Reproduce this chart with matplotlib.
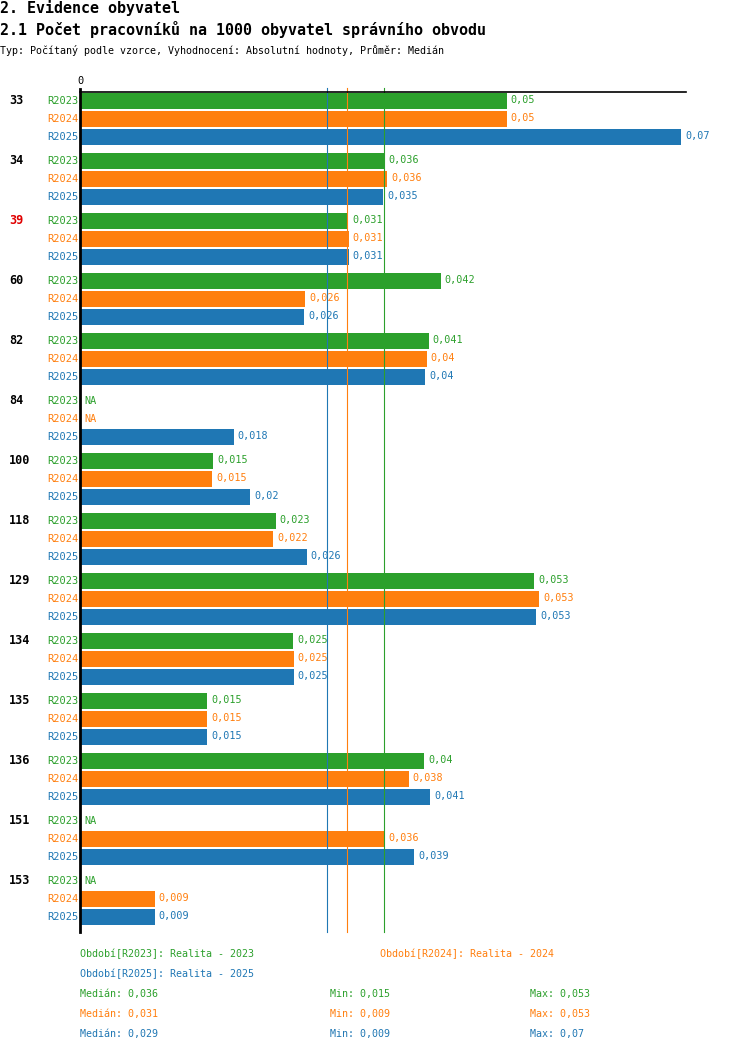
import matplotlib
matplotlib.use("Agg")
import matplotlib.pyplot as plt

# data (bar lengths, labels as printed)
groups = ["33", "34", "39", "60", "82", "84", "100", "118", "129", "134", "135", "136", "151", "153"]
series = ["R2023", "R2024", "R2025"]
r2023 = [0.0497, 0.0355, 0.0312, 0.0420, 0.0406, None, 0.0155, 0.0228, 0.0529, 0.0248, 0.0148, 0.0401, None, None]
r2024 = [0.0497, 0.0358, 0.0313, 0.0262, 0.0404, None, 0.0154, 0.0225, 0.0535, 0.0249, 0.0148, 0.0383, 0.0355, 0.0087]
r2025 = [0.0700, 0.0353, 0.0313, 0.0261, 0.0402, 0.0179, 0.0198, 0.0264, 0.0531, 0.0249, 0.0148, 0.0408, 0.0389, 0.0087]
lab2023 = ["0,05", "0,036", "0,031", "0,042", "0,041", "NA", "0,015", "0,023", "0,053", "0,025", "0,015", "0,04", "NA", "NA"]
lab2024 = ["0,05", "0,036", "0,031", "0,026", "0,04", "NA", "0,015", "0,022", "0,053", "0,025", "0,015", "0,038", "0,036", "0,009"]
lab2025 = ["0,07", "0,035", "0,031", "0,026", "0,04", "0,018", "0,02", "0,026", "0,053", "0,025", "0,015", "0,041", "0,039", "0,009"]
median_lines = [0.0354, 0.0311, 0.0288]
medians = ["0,036", "0,031", "0,029"]
mins = ["0,015", "0,009", "0,009"]
maxs = ["0,053", "0,053", "0,07"]
period_names = ["Realita - 2023", "Realita - 2024", "Realita - 2025"]
highlight = "39"

colors = ["#2ca02c", "#ff7f0e", "#1f77b4"]
FONT = "DejaVu Sans Mono"

W, H = 750, 1052
fig = plt.figure(figsize=(W / 100, H / 100), dpi=100)

def fx(px):
    return px / W

def fy(py):
    return 1 - py / H

# axes: x 80..686 px, y 92..932 px, y units in pixels
ax_left, ax_right, ax_top, ax_bot = 80, 686, 92, 932
ax = fig.add_axes([fx(ax_left), fy(ax_bot), (ax_right - ax_left) / W, (ax_bot - ax_top) / H])
ax.set_xlim(0, 0.07058)
ax.set_ylim(ax_bot - ax_top, 0)
ax.axis("off")

# axis lines
fig.add_artist(plt.Line2D([fx(ax_left), fx(ax_right)], [fy(92), fy(92)], color="black", lw=1.2))
fig.add_artist(plt.Line2D([fx(ax_left), fx(ax_left)], [fy(89), fy(932)], color="black", lw=2))
fig.text(fx(80), fy(81), "0", ha="center", va="center", fontsize=7.5, family=FONT)

data = [r2023, r2024, r2025]
labels = [lab2023, lab2024, lab2025]
for gi, g in enumerate(groups):
    for si in range(3):
        y = 8.5 + gi * 60 + si * 18
        v = data[si][gi]
        if v is not None:
            ax.barh(y, v, height=16, color=colors[si], left=0)
            ax.annotate(labels[si][gi], (v, y), xytext=(4, 0), textcoords="offset pixels",
                        ha="left", va="center", fontsize=7.3, family=FONT, color=colors[si])
        else:
            ax.annotate(labels[si][gi], (0, y), xytext=(4, 0), textcoords="offset pixels",
                        ha="left", va="center", fontsize=7.3, family=FONT, color=colors[si])
        ax.annotate(series[si], (0, y), xytext=(-2, 0), textcoords="offset pixels",
                    ha="right", va="center", fontsize=7.5, family=FONT, color=colors[si],
                    annotation_clip=False)
    ax.annotate(g, (0, 8.5 + gi * 60), xytext=(9 - 80, 0), textcoords="offset pixels",
                ha="left", va="center", fontsize=8.5, family=FONT, fontweight="bold",
                color="#e00000" if g == highlight else "black", annotation_clip=False)

# median lines
for si in range(3):
    ax.plot([median_lines[si], median_lines[si]], [-4, ax_bot - ax_top], color=colors[si],
            lw=0.8, clip_on=False, zorder=3)

# titles
fig.text(0, fy(8), "2. Evidence obyvatel", ha="left", va="center", fontsize=10.8,
         family=FONT, fontweight="bold")
fig.text(0, fy(30), "2.1 Počet pracovníků na 1000 obyvatel správního obvodu", ha="left",
         va="center", fontsize=10.8, family=FONT, fontweight="bold")
fig.text(0, fy(50), "Typ: Počítaný podle vzorce, Vyhodnocení: Absolutní hodnoty, Průměr: Medián",
         ha="left", va="center", fontsize=7.2, family=FONT)

# legend
leg_pos = [(80, 954), (380, 954), (80, 974)]
for si in range(3):
    x, y = leg_pos[si]
    fig.text(fx(x), fy(y), "Období[%s]: %s" % (series[si], period_names[si]), ha="left",
             va="center", fontsize=7.2, family=FONT, color=colors[si])

for si in range(3):
    y = 994 + si * 20
    fig.text(fx(80), fy(y), "Medián: " + medians[si], ha="left", va="center",
             fontsize=7.2, family=FONT, color=colors[si])
    fig.text(fx(330), fy(y), "Min: " + mins[si], ha="left", va="center",
             fontsize=7.2, family=FONT, color=colors[si])
    fig.text(fx(530), fy(y), "Max: " + maxs[si], ha="left", va="center",
             fontsize=7.2, family=FONT, color=colors[si])

fig.savefig("out.png", dpi=100)
